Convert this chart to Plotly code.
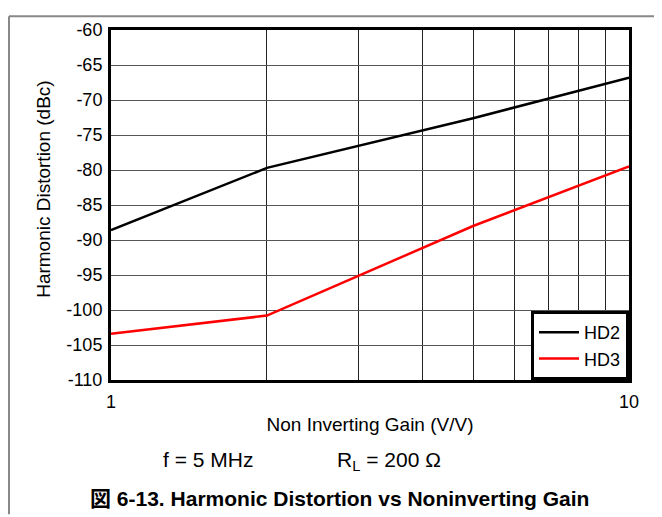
import plotly.graph_objects as go

gain = [1, 2, 5, 10]
hd2 = [-88.6, -79.7, -72.6, -66.8]
hd3 = [-103.4, -100.8, -88.0, -79.5]

x_tickvals = [1, 2, 3, 4, 5, 6, 7, 8, 9, 10]
x_ticktext = ["1", "", "", "", "", "", "", "", "", "10"]
y_tickvals = [-110, -105, -100, -95, -90, -85, -80, -75, -70, -65, -60]
y_ticktext = ["-110", "-105", "-100", "-95", "-90", "-85", "-80", "-75", "-70", "-65", "-60"]

FONT = "Liberation Sans, Arial, sans-serif"

fig = go.Figure()
fig.add_trace(go.Scatter(x=gain, y=hd2, mode="lines", name="HD2",
                         line=dict(color="#000000", width=2.5)))
fig.add_trace(go.Scatter(x=gain, y=hd3, mode="lines", name="HD3",
                         line=dict(color="#ff0000", width=2.5)))

OFF = 8  # page body margin
W, H = 662 - OFF, 517 - OFF
L = 111 - OFF
T = 23 - OFF
R = W - (629 - OFF)
B = H - (380 - OFF)
pw, ph = W - L - R, H - T - B

def px(xs):
    return (xs - OFF - L) / pw

def py(ys):
    return (H - B - (ys - OFF)) / ph

fig.update_layout(
    width=W, height=H,
    margin=dict(l=L, r=R, t=T, b=B),
    paper_bgcolor="white", plot_bgcolor="white",
    font=dict(family=FONT, color="#000000", size=18),
    showlegend=True,
    legend=dict(x=1, xanchor="right", y=0, yanchor="bottom",
                bgcolor="white", bordercolor="#000000", borderwidth=3,
                font=dict(size=18, family=FONT), tracegroupgap=0,
                itemwidth=40),
    xaxis=dict(type="log", range=[0, 1], tickvals=x_tickvals, ticktext=x_ticktext,
               showgrid=True, gridcolor="#222222", gridwidth=1,
               showline=True, linecolor="#000000", linewidth=3, mirror=True,
               ticks="outside", ticklen=3, tickcolor="rgba(0,0,0,0)",
               tickfont=dict(size=18), zeroline=False,
               title=dict(text="Non Inverting Gain (V/V)", font=dict(size=19), standoff=8)),
    yaxis=dict(range=[-110, -60], tickvals=y_tickvals, ticktext=y_ticktext,
               showgrid=True, gridcolor="#555555", gridwidth=1,
               showline=True, linecolor="#000000", linewidth=3, mirror=True,
               ticks="outside", ticklen=2, tickcolor="rgba(0,0,0,0)",
               tickfont=dict(size=18), zeroline=False, title=dict(text="")),
    annotations=[
        dict(text="Harmonic Distortion (dBc)", x=px(44), y=py(185), xref="paper", yref="paper",
             showarrow=False, textangle=-90, font=dict(size=19),
             xanchor="center", yanchor="middle"),
        dict(text="f = 5 MHz", x=px(208), y=py(461), xref="paper", yref="paper",
             showarrow=False, font=dict(size=21), xanchor="center", yanchor="middle"),
        dict(text="R<sub>L</sub> = 200 Ω", x=px(335), y=py(463), xref="paper", yref="paper",
             showarrow=False, font=dict(size=21), xanchor="left", yanchor="middle"),
        dict(text="<b>図 6-13. Harmonic Distortion vs Noninverting Gain</b>",
             x=px(339), y=py(501), xref="paper", yref="paper",
             showarrow=False, font=dict(size=21, family="Liberation Sans, Noto Sans CJK JP, sans-serif"),
             xanchor="center", yanchor="middle"),
    ],
    shapes=[
        dict(type="line", xref="paper", yref="paper", x0=px(OFF + 1), x1=px(662), y0=py(OFF + 1), y1=py(OFF + 1),
             line=dict(color="#888888", width=2)),
        dict(type="line", xref="paper", yref="paper", x0=px(OFF + 1), x1=px(OFF + 1), y0=py(OFF + 1), y1=py(517),
             line=dict(color="#888888", width=2)),
    ],
)

fig.write_html("out.html")
